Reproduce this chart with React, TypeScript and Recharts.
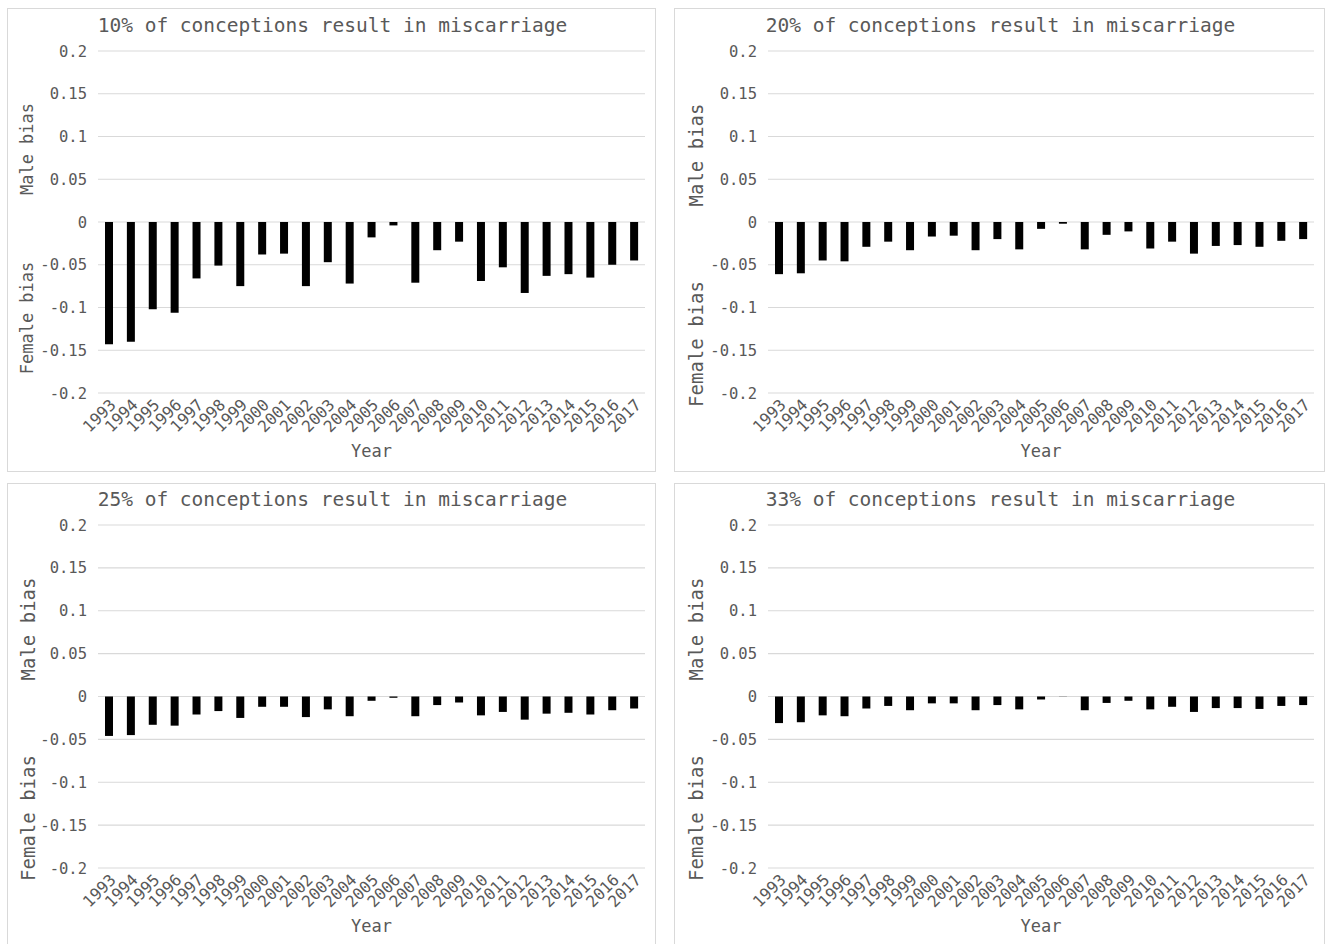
import React from "react";
import { BarChart, Bar, XAxis, YAxis, CartesianGrid } from "recharts";

const YEARS = [
  "1993", "1994", "1995", "1996", "1997", "1998", "1999", "2000", "2001",
  "2002", "2003", "2004", "2005", "2006", "2007", "2008", "2009", "2010",
  "2011", "2012", "2013", "2014", "2015", "2016", "2017",
];

const BIAS_10 = [
  -0.143, -0.14, -0.102, -0.106, -0.066, -0.051, -0.075, -0.038, -0.037,
  -0.075, -0.047, -0.072, -0.018, -0.004, -0.071, -0.033, -0.023, -0.069,
  -0.053, -0.083, -0.063, -0.061, -0.065, -0.05, -0.045,
];
const BIAS_20 = [
  -0.061, -0.06, -0.045, -0.046, -0.029, -0.023, -0.033, -0.017, -0.016,
  -0.033, -0.02, -0.032, -0.008, -0.002, -0.032, -0.015, -0.011, -0.031,
  -0.023, -0.037, -0.028, -0.027, -0.029, -0.022, -0.02,
];
const BIAS_25 = [
  -0.046, -0.045, -0.033, -0.034, -0.021, -0.017, -0.025, -0.012, -0.012,
  -0.024, -0.015, -0.023, -0.005, -0.0015, -0.023, -0.01, -0.007, -0.022,
  -0.018, -0.027, -0.02, -0.019, -0.021, -0.016, -0.014,
];
const BIAS_33 = [
  -0.031, -0.03, -0.022, -0.023, -0.014, -0.011, -0.016, -0.008, -0.008,
  -0.016, -0.01, -0.015, -0.0035, -0.0002, -0.016, -0.0075, -0.005, -0.015,
  -0.012, -0.018, -0.0135, -0.0135, -0.0145, -0.011, -0.01,
];

const Y_TICKS = [-0.2, -0.15, -0.1, -0.05, 0, 0.05, 0.1, 0.15, 0.2];

const TITLES = [
  "10% of conceptions result in miscarriage",
  "20% of conceptions result in miscarriage",
  "25% of conceptions result in miscarriage",
  "33% of conceptions result in miscarriage",
];
const SERIES = [BIAS_10, BIAS_20, BIAS_25, BIAS_33];

const FONT = "'DejaVu Sans Mono', monospace";
const GREY = "#595959";

const PANELS = [
  { left: 7, top: 8, width: 649, height: 464, plotLeft: 91, plotTop: 43, labelX: 19, labelSize: 17, maleY: 140, femaleY: 309, titleY: 17 },
  { left: 674, top: 8, width: 651, height: 464, plotLeft: 94, plotTop: 43, labelX: 21, labelSize: 19, maleY: 146, femaleY: 335, titleY: 17 },
  { left: 7, top: 483, width: 649, height: 470, plotLeft: 91, plotTop: 42, labelX: 20, labelSize: 19, maleY: 145, femaleY: 334, titleY: 16 },
  { left: 674, top: 483, width: 651, height: 470, plotLeft: 94, plotTop: 42, labelX: 21, labelSize: 19, maleY: 145, femaleY: 334, titleY: 16 },
];

function YearTick({ x, y, payload }: any) {
  return (
    <text
      transform={`translate(${x + 4},${y + 9}) rotate(-45)`}
      textAnchor="end"
      dominantBaseline="central"
      fontFamily={FONT}
      fontSize={16}
      fill={GREY}
    >
      {payload.value}
    </text>
  );
}

const fmt = (v: number) => String(Number(v.toFixed(2)));

function Panel({ index }: { index: number }) {
  const p = PANELS[index];
  const values = SERIES[index];
  const data = YEARS.map((year, i) => ({ year, bias: values[i] }));
  const xAxisHeight = 64;
  const bottom = p.height - 385 - xAxisHeight;

  return (
    <div
      style={{
        position: "absolute",
        left: p.left,
        top: p.top,
        width: p.width,
        height: p.height,
        border: "1px solid #d9d9d9",
        boxSizing: "border-box",
        background: "#fff",
      }}
    >
      <div style={{ position: "absolute", left: -1, top: -1 }}>
        <BarChart
          width={p.width}
          height={p.height}
          data={data}
          margin={{ top: p.plotTop, right: 11, bottom, left: 0 }}
        >
          <CartesianGrid vertical={false} stroke="#d9d9d9" strokeWidth={1.2} />
          <XAxis
            dataKey="year"
            interval={0}
            axisLine={false}
            tickLine={false}
            tickSize={0}
            tickMargin={0}
            height={xAxisHeight}
            tick={<YearTick />}
            label={{
              value: "Year",
              position: "insideBottom",
              offset: 0,
              fill: GREY,
              fontSize: 17,
              fontFamily: FONT,
            }}
          />
          <YAxis
            width={p.plotLeft}
            domain={[-0.2, 0.2]}
            ticks={Y_TICKS}
            tickFormatter={fmt}
            axisLine={false}
            tickLine={false}
            tickSize={0}
            tickMargin={11}
            tick={{ fill: GREY, fontSize: 15.5, fontFamily: FONT }}
          />
          <Bar dataKey="bias" fill="#000" barSize={8} isAnimationActive={false} />
        </BarChart>
      </div>
      <div
        style={{
          position: "absolute",
          left: 0,
          width: p.width,
          top: p.titleY - 11,
          lineHeight: "22px",
          textAlign: "center",
          fontFamily: FONT,
          fontSize: 19.5,
          color: GREY,
          whiteSpace: "nowrap",
        }}
      >
        {TITLES[index]}
      </div>
      {[
        ["Male bias", p.maleY],
        ["Female bias", p.femaleY],
      ].map(([text, cy]) => (
        <div
          key={text as string}
          style={{
            position: "absolute",
            left: p.labelX,
            top: cy as number,
            transform: "translate(-50%, -50%) rotate(-90deg)",
            fontFamily: FONT,
            fontSize: p.labelSize,
            color: GREY,
            whiteSpace: "nowrap",
            lineHeight: 1,
          }}
        >
          {text}
        </div>
      ))}
    </div>
  );
}

export default function App() {
  return (
    <div
      style={{
        position: "absolute",
        left: 0,
        top: 0,
        width: 1330,
        height: 944,
        overflow: "hidden",
        background: "#fff",
      }}
    >
      {PANELS.map((_, i) => (
        <Panel key={i} index={i} />
      ))}
    </div>
  );
}
